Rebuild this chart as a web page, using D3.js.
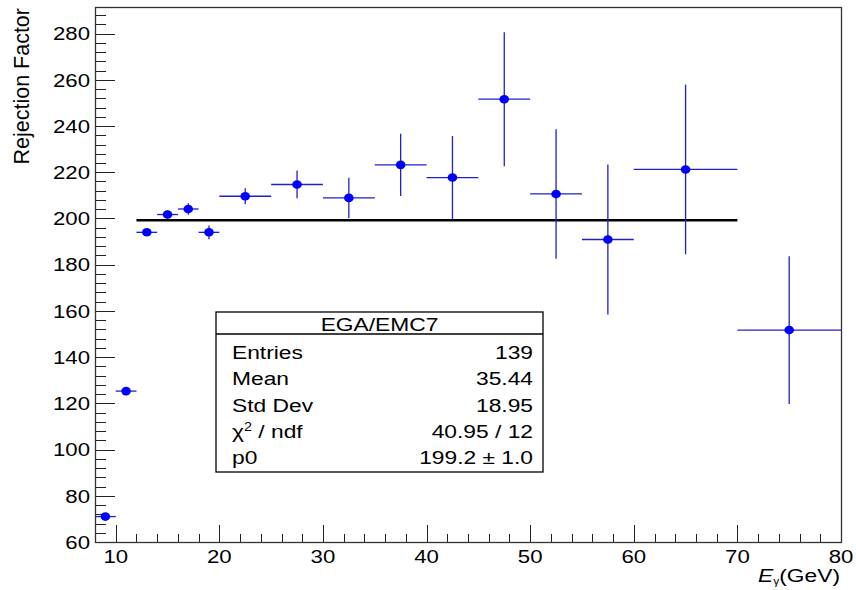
<!DOCTYPE html>
<html>
<head>
<meta charset="utf-8">
<script src="https://cdn.jsdelivr.net/npm/d3@7"></script>
<style>
  body { margin: 0; background: #fff; }
  text { font-family: "Liberation Sans", Arial, Helvetica, sans-serif; fill: #000; }
</style>
</head>
<body>
<div id="chart"></div>
<script>
// bin edges and contents (E_gamma in GeV)
var binEdges = [8, 10, 12, 14, 16, 18, 20, 25, 30, 35, 40, 45, 50, 55, 60, 70, 80];
var rejValues = [71.0, 125.3, 194.0, 201.7, 204.1, 194.0, 209.6, 214.7, 208.9, 223.2, 217.7, 251.6, 210.6, 190.9, 221.2, 151.7];
var rejErrors = [1.0, 1.2, 1.5, 1.8, 2.5, 3.0, 3.5, 6.0, 8.7, 13.5, 18.0, 29.0, 28.0, 32.5, 36.7, 32.0];
var fitP0 = 199.2, fitRange = [12, 70];
var xTicks = [10, 20, 30, 40, 50, 60, 70, 80];
var yTicks = [60, 80, 100, 120, 140, 160, 180, 200, 220, 240, 260, 280];
var statsTitle = "EGA/EMC7";
var statsNames = ["Entries", "Mean", "Std Dev", "chi2", "p0"];
var statsValues = ["139", "35.44", "18.95", "40.95 / 12", "199.2 \u00b1 1.0"];

var W = 856, H = 590;
var margin = { top: 7, right: 15, bottom: 48, left: 95 };
var sx = 1.2; // the picture is a bit wider than tall

var svg = d3.select("#chart").append("svg")
    .attr("width", W).attr("height", H);

var x = d3.scaleLinear().domain([8, 80]).range([margin.left, W - margin.right]);
var y = d3.scaleLinear().domain([60, 291.5]).range([H - margin.bottom, margin.top]);

// text with horizontal stretch
function stext(parent, px, py, str, anchor, size) {
    var g = parent.append("g").attr("transform", "translate(" + px + "," + py + ") scale(" + sx + ",1)");
    return g.append("text").attr("text-anchor", anchor || "start")
        .attr("font-size", size || 18).text(str);
}

// ticks
var tg = svg.append("g").attr("stroke", "#222").attr("stroke-width", 1);
d3.range(60, 291, 4).forEach(function (v) {
    var major = v % 20 === 0;
    tg.append("line").attr("x1", margin.left).attr("x2", margin.left + (major ? 20 : 11))
        .attr("y1", Math.round(y(v)) + 0.5).attr("y2", Math.round(y(v)) + 0.5);
});
d3.range(10, 80, 2).forEach(function (v) {
    var major = v % 10 === 0;
    tg.append("line").attr("x1", Math.round(x(v)) + 0.5).attr("x2", Math.round(x(v)) + 0.5)
        .attr("y1", y(60)).attr("y2", y(60) - (major ? 17 : 8));
});

// frame
svg.append("rect").attr("x", margin.left + 0.5).attr("y", margin.top + 0.5)
    .attr("width", W - margin.left - margin.right).attr("height", H - margin.top - margin.bottom)
    .attr("fill", "none").attr("stroke", "#333").attr("stroke-width", 1.3);

// tick labels
yTicks.forEach(function (v) {
    stext(svg, 90, y(v) + 6.8, v, "end", 18.5);
});
xTicks.forEach(function (v) {
    stext(svg, x(v), 563, v, "middle", 18.5);
});

// axis titles
svg.append("text").attr("transform", "translate(29,8) rotate(-90)")
    .attr("text-anchor", "end").attr("font-size", 21.5).text("Rejection Factor");
var xt = svg.append("g").attr("transform", "translate(840,582) scale(" + sx + ",1)")
    .append("text").attr("text-anchor", "end").attr("font-size", 19);
xt.append("tspan").attr("font-style", "italic").text("E");
xt.append("tspan").attr("font-size", 10).attr("dy", 3).text("\u03b3");
xt.append("tspan").attr("dy", -3).text("(GeV)");

// fit line
svg.append("line")
    .attr("x1", x(fitRange[0])).attr("x2", x(fitRange[1]))
    .attr("y1", y(fitP0)).attr("y2", y(fitP0))
    .attr("stroke", "#000").attr("stroke-width", 2.5);

// data points with errors
var pts = rejValues.map(function (v, i) {
    return { lo: binEdges[i], hi: binEdges[i + 1], c: (binEdges[i] + binEdges[i + 1]) / 2, v: v, e: rejErrors[i] };
});
var dg = svg.append("g");
dg.selectAll(".xerr").data(pts).enter().append("line")
    .attr("x1", function (d) { return x(d.lo); }).attr("x2", function (d) { return x(d.hi); })
    .attr("y1", function (d) { return y(d.v); }).attr("y2", function (d) { return y(d.v); })
    .attr("stroke", "#2020c8").attr("stroke-width", 1.3);
dg.selectAll(".yerr").data(pts).enter().append("line")
    .attr("x1", function (d) { return x(d.c); }).attr("x2", function (d) { return x(d.c); })
    .attr("y1", function (d) { return y(d.v - d.e); }).attr("y2", function (d) { return y(d.v + d.e); })
    .attr("stroke", "#2020c8").attr("stroke-width", 1.3);
dg.selectAll("ellipse").data(pts).enter().append("ellipse")
    .attr("cx", function (d) { return x(d.c); }).attr("cy", function (d) { return y(d.v); })
    .attr("rx", 4.8).attr("ry", 4.3).attr("fill", "#0000ff");

// stats box
var bx0 = 216, bx1 = 543, by0 = 312, by1 = 472, bsep = 334;
var sb = svg.append("g");
sb.append("rect").attr("x", bx0).attr("y", by0).attr("width", bx1 - bx0).attr("height", by1 - by0)
    .attr("fill", "#fff").attr("stroke", "#000").attr("stroke-width", 1.3);
sb.append("line").attr("x1", bx0).attr("x2", bx1).attr("y1", bsep).attr("y2", bsep)
    .attr("stroke", "#000").attr("stroke-width", 1.3);
stext(sb, (bx0 + bx1) / 2, 331, statsTitle, "middle", 19);
statsNames.forEach(function (n, i) {
    var py = 359 + i * 26.3;
    if (n === "chi2") {
        var t = sb.append("g").attr("transform", "translate(232," + py + ") scale(" + sx + ",1)")
            .append("text").attr("font-size", 19);
        t.append("tspan").text("\u03c7");
        t.append("tspan").attr("font-size", 12).attr("dy", -7).text("2");
        t.append("tspan").attr("dy", 7).text(" / ndf");
    } else {
        stext(sb, 232, py, n, "start", 19);
    }
    stext(sb, 533, py, statsValues[i], "end", 19);
});
</script>
</body>
</html>
